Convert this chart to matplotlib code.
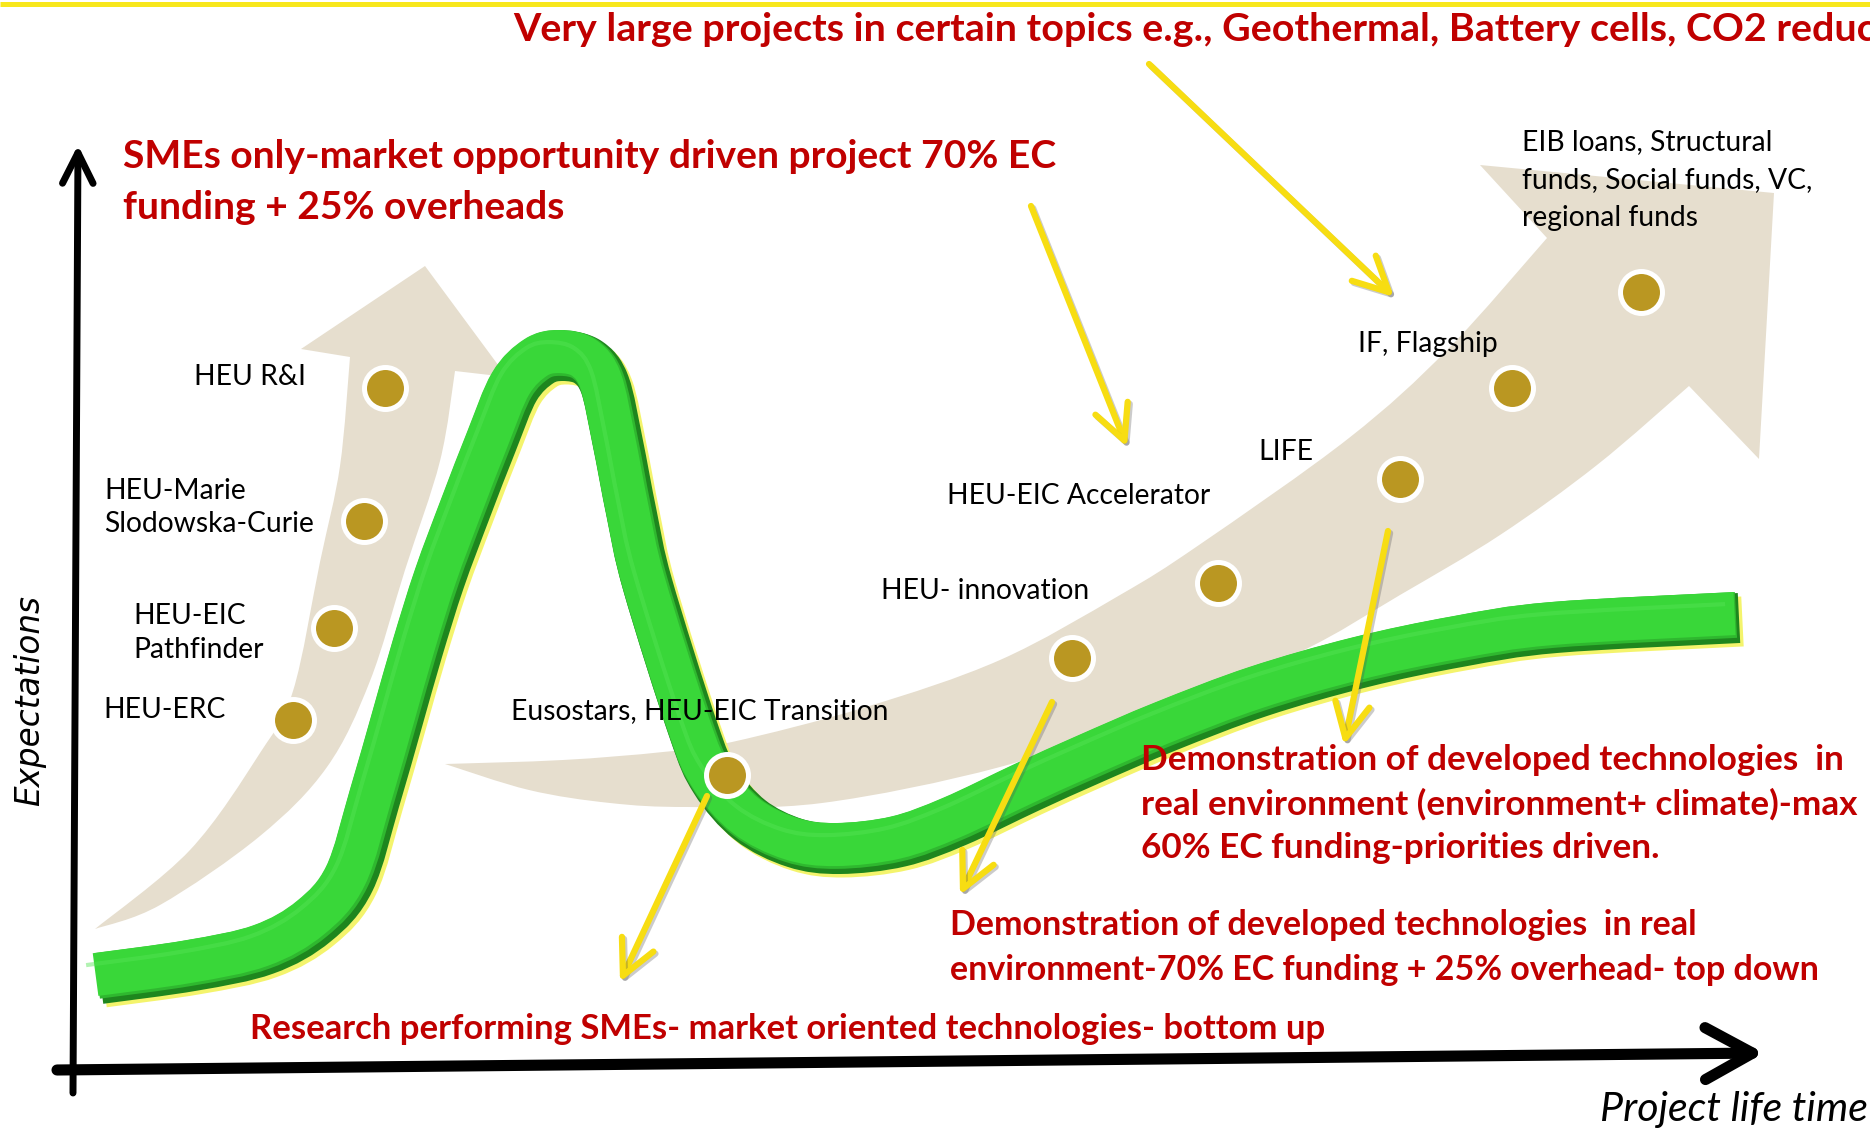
import matplotlib
matplotlib.use('Agg')
import matplotlib.pyplot as plt
import matplotlib.patheffects as pe
import numpy as np
from matplotlib.path import Path
from matplotlib.patches import PathPatch, FancyArrowPatch

W, H = 1870, 1132

RED = '#C00000'
BEIGE = '#E6DECE'
GOLD = '#BA9722'
YELLOW = '#F7DD12'

# green hype-cycle tube, centre line (pixel coords)
curve_x = [100, 193, 265, 315, 350, 375, 398, 418, 440, 466, 492, 515, 540, 563, 588, 605, 618, 632, 648,
           693, 715, 750, 795, 840, 900, 956, 1028, 1090, 1167, 1260, 1361, 1460, 1556, 1739]
curve_y = [979, 966, 950, 922, 880, 800, 720, 650, 580, 510, 443, 388, 362, 356, 362, 385, 443, 515, 586,
           729, 780, 820, 843, 849, 842, 822, 788, 760, 727, 692, 663, 642, 628, 618]

# left beige arrow: outer edge (tail -> head), head, inner edge (head -> tail)
left_outer = [(95, 929), (190, 850), (260, 753), (293, 691), (320, 562), (340, 466), (350, 357)]
left_head = [(301, 349), (425, 266), (507, 377)]
left_inner = [(455, 371), (440, 461), (405, 570), (370, 681), (327, 767), (260, 836), (160, 905), (95, 929)]

# big beige arrow
big_upper = [(445, 764), (563, 760), (663, 752), (732, 742), (866, 707), (1000, 660), (1120, 595),
             (1199, 545), (1349, 438), (1448, 349), (1547, 238)]
big_head = [(1480, 165), (1774, 193), (1759, 459)]
big_lower = [(1689, 386), (1597, 465), (1500, 535), (1400, 595), (1300, 652), (1150, 715), (1000, 767),
             (822, 803), (688, 807), (610, 803), (529, 790), (445, 764)]

# funding instruments (dots)
dot_x = [385, 364, 334, 293, 727, 1072, 1218, 1400, 1512, 1641]
dot_y = [388, 521, 628, 720, 775, 658, 583, 479, 388, 292]

labels = [
    ("HEU R&I", 194, 385),
    ("HEU-Marie", 104, 499),
    ("Slodowska-Curie", 104, 532),
    ("HEU-EIC", 133, 624),
    ("Pathfinder", 133, 658),
    ("HEU-ERC", 103, 718),
    ("Eusostars, HEU-EIC Transition", 511, 719),
    ("HEU- innovation", 881, 599),
    ("HEU-EIC Accelerator", 947, 504),
    ("LIFE", 1258, 460),
    ("IF, Flagship", 1358, 352),
    ("EIB loans, Structural", 1522, 150),
    ("funds, Social funds, VC,", 1522, 188),
    ("regional funds", 1522, 226),
]

# red statements
title_lines = ["Very large projects in certain topics e.g., Geothermal, Battery cells, CO2 reduction"]
smes_lines = ["SMEs only-market opportunity driven project 70% EC", "funding + 25% overheads"]
research_lines = ["Research performing SMEs- market oriented technologies- bottom up"]
demo_low_lines = ["Demonstration of developed technologies  in real",
                  "environment-70% EC funding + 25% overhead- top down"]
demo_high_lines = ["Demonstration of developed technologies  in",
                   "real environment (environment+ climate)-max",
                   "60% EC funding-priorities driven."]

# yellow pointer arrows (start, end)
pointer_start = [(1149, 64), (1031, 206), (707, 796), (1052, 702), (1388, 531)]
pointer_end = [(1394, 297), (1127, 447), (620, 982), (960, 895), (1344, 745)]


def smooth_path(pts, first_code=Path.MOVETO):
    """Catmull-Rom through the points, as cubic bezier segments."""
    pts = np.asarray(pts, dtype=float)
    verts = [pts[0]]
    codes = [first_code]
    n = len(pts)
    for i in range(n - 1):
        p0 = pts[max(i - 1, 0)]
        p1 = pts[i]
        p2 = pts[i + 1]
        p3 = pts[min(i + 2, n - 1)]
        verts += [p1 + (p2 - p0) / 6, p2 - (p3 - p1) / 6, p2]
        codes += [Path.CURVE4] * 3
    return verts, codes


def arrow_patch(upper, head, lower):
    v, c = smooth_path(upper)
    for p in head:
        v.append(p)
        c.append(Path.LINETO)
    v2, c2 = smooth_path(lower, first_code=Path.LINETO)
    v += v2 + [v[0]]
    c += c2 + [Path.CLOSEPOLY]
    return PathPatch(Path(v, c), facecolor=BEIGE, edgecolor='none', zorder=1)


fig = plt.figure(figsize=(W / 100, H / 100), dpi=100)
ax = fig.add_axes([0, 0, 1, 1])
ax.set_xlim(0, W)
ax.set_ylim(H, 0)
ax.axis('off')
renderer = fig.canvas.get_renderer()


def fit_size(text, width, **kw):
    t = ax.text(0, 0, text, fontsize=20, **kw)
    w = t.get_window_extent(renderer).width
    t.remove()
    return 20 * width / w


# yellow rule at the very top
ax.plot([0, W], [4, 4], color='#F8E71C', lw=3.6, solid_capstyle='butt', zorder=2)

# beige arrows
ax.add_patch(arrow_patch(left_outer, left_head, left_inner))
ax.add_patch(arrow_patch(big_upper, big_head, big_lower))

# green tube with a little 3D look
TUBE_LW = 36
v, c = smooth_path(list(zip(curve_x, curve_y)))
tube = PathPatch(Path(v, c), fill=False, lw=TUBE_LW, capstyle='butt', joinstyle='round',
                 edgecolor='#38D638', zorder=3)
tube.set_path_effects([
    pe.Stroke(offset=(2.5, -2.5), linewidth=TUBE_LW, foreground='#F4F46C'),
    pe.Stroke(linewidth=TUBE_LW, foreground='#1E861E'),
    pe.Stroke(offset=(-2.2, 2.2), linewidth=TUBE_LW - 3, foreground='#2FB82F'),
    pe.Stroke(offset=(-3.2, 3.2), linewidth=TUBE_LW - 5, foreground='#39D739'),
    pe.Stroke(offset=(-10, 10), linewidth=3, foreground='#55E455', alpha=0.45),
])
ax.add_patch(tube)

# axes arrows
ya = FancyArrowPatch((73, 1093), (78, 145), arrowstyle='->,head_length=1.0,head_width=0.5',
                     mutation_scale=22, lw=5, color='black', shrinkA=0, shrinkB=0, zorder=2)
xa = FancyArrowPatch((57, 1070), (1764, 1053), arrowstyle='->,head_length=1.0,head_width=0.55',
                     mutation_scale=34, lw=8, color='black', shrinkA=0, shrinkB=0, zorder=2)
ax.add_patch(ya)
ax.add_patch(xa)

# yellow pointers
for (x0, y0), (x1, y1) in zip(pointer_start, pointer_end):
    arr = FancyArrowPatch((x0, y0), (x1, y1), arrowstyle='->,head_length=1.0,head_width=0.5',
                          mutation_scale=25, lw=4.5, color=YELLOW, shrinkA=0, shrinkB=0, zorder=4)
    arr.set_path_effects([pe.SimpleLineShadow(offset=(1.5, -1.5), shadow_color='#555555', alpha=0.3),
                          pe.Normal()])
    ax.add_patch(arr)

# dots
ax.scatter(dot_x, dot_y, s=914, c=GOLD, edgecolors='white', linewidths=3.6, zorder=5)

# black labels
lab_size = fit_size("Eusostars, HEU-EIC Transition", 377, family='Lato')
for s, x, y in labels:
    ax.text(x, y, s, fontsize=lab_size, family='Lato', color='black', va='baseline', zorder=7)


def red_block(lines, x, baselines, width, fit_line=None):
    ref = fit_line if fit_line else max(lines, key=len)
    size = fit_size(ref, width, family='Lato', weight='bold')
    for s, y in zip(lines, baselines):
        ax.text(x, y, s, fontsize=size, family='Lato', weight='bold', color=RED,
                va='baseline', zorder=7)


red_block(title_lines, 513, [41], 1362,
          fit_line="Very large projects in certain topics e.g., Geothermal, Battery cells, CO2 reduc")
red_block(smes_lines, 123, [168, 219], 934)
red_block(research_lines, 250, [1039], 1076)
red_block(demo_low_lines, 950, [935, 980], 870, fit_line=demo_low_lines[1])
red_block(demo_high_lines, 1141, [770, 815, 858], 715, fit_line=demo_high_lines[1])

# axis titles
exp_size = fit_size("Expectations", 211, family='DejaVu Sans', style='italic')
ax.text(30, 700, "Expectations", fontsize=exp_size, family='DejaVu Sans', style='italic',
        rotation=90, ha='center', va='center', zorder=7)
plt_size = fit_size("Project life time", 268, family='Lato', style='italic')
ax.text(1600, 1121, "Project life time", fontsize=plt_size, family='Lato', style='italic',
        va='baseline', zorder=7)

fig.savefig('out.png', dpi=100, facecolor='white')
